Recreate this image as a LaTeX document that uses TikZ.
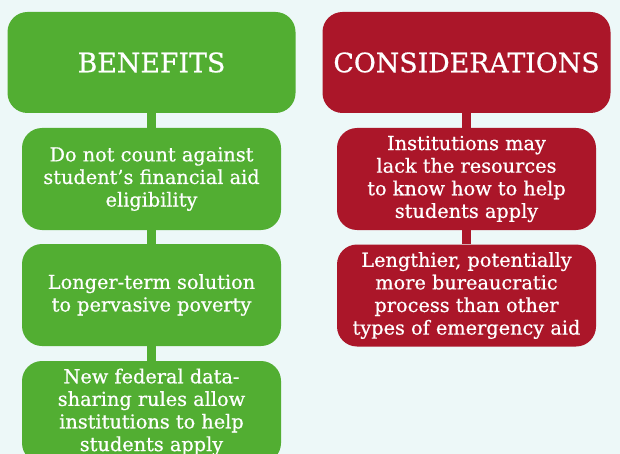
\documentclass[tikz,border=0pt]{standalone}
\usepackage{fontspec}
\setmainfont[FakeBold=0.6,AutoFakeBold=0.6]{DejaVu Serif}
\newfontfamily\medfont[FakeBold=0.6,Ligatures=TeX]{DejaVu Serif}
\definecolor{bgc}{HTML}{EDF8F8}
\definecolor{grn}{HTML}{52AE32}
\definecolor{rd}{HTML}{AB1629}
\begin{document}
\begin{tikzpicture}[x=1pt,y=-1pt,
  hdr/.style={rounded corners=20pt, minimum width=288pt, minimum height=101pt, inner sep=0pt, text=white, font=\fontsize{26.8}{30}\selectfont},
  itembox/.style={rounded corners=20pt, minimum width=259pt, minimum height=102pt, inner sep=0pt, text=white, align=center, font=\medfont\fontsize{19.3}{22.6}\selectfont},
  gconn/.style={draw=grn, line width=9pt},
  rconn/.style={draw=rd, line width=9pt}]
\fill[bgc] (0,0) rectangle (620,454);
\useasboundingbox (0,0) rectangle (620,454);
\clip (0,0) rectangle (620,454);
% benefits
\node[hdr, fill=grn] (gh) at (151.5,62.5) {BENEFITS};
\node[itembox, fill=grn] (g1) at (151.5,179) {Do not count against\\student’s financial aid\\eligibility};
\node[itembox, fill=grn] (g2) at (151.5,295) {Longer-term solution\\to pervasive poverty};
\node[itembox, fill=grn] (g3) at (151.5,412) {New federal data-\\sharing rules allow\\institutions to help\\students apply};
\draw[gconn] (gh.south) -- (g1.north);
\draw[gconn] (g1.south) -- (g2.north);
\draw[gconn] (g2.south) -- (g3.north);
% considerations
\node[hdr, fill=rd] (rh) at (466.5,62.5) {CONSIDERATIONS};
\node[itembox, fill=rd] (r1) at (466.5,179) {Institutions may\\lack the resources\\to know how to help\\students apply};
\node[itembox, fill=rd] (r2) at (466.5,295.5) {Lengthier, potentially\\more bureaucratic\\process than other\\types of emergency aid};
\draw[rconn] (rh.south) -- (r1.north);
\draw[rconn] (r1.south) -- (r2.north);
\end{tikzpicture}
\end{document}
